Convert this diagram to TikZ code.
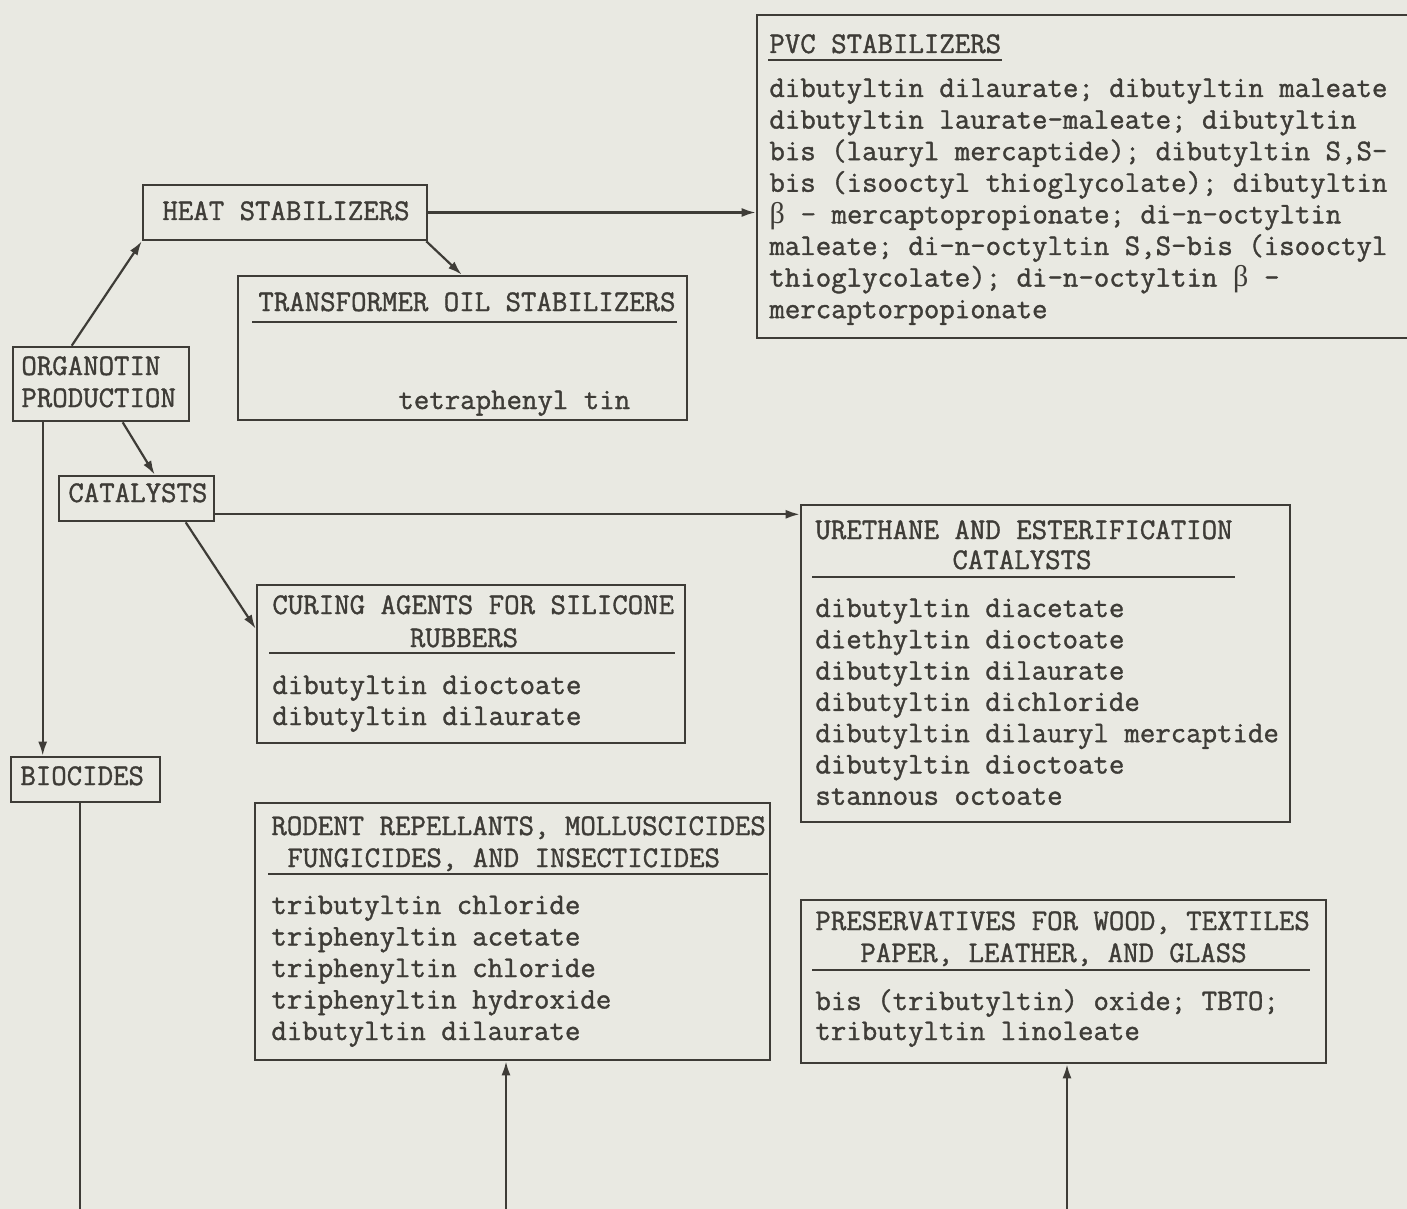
\documentclass[tikz,border=0pt]{standalone}
\usepackage{fontspec}
\newfontfamily\tw{Latin Modern Mono}[FakeBold=1.2]
\newfontfamily\grk{Liberation Serif}
\newcommand\betachar{\makebox[7.9pt]{\grk β}}
\usetikzlibrary{arrows.meta,calc}
\definecolor{paper}{RGB}{233,233,226}
\definecolor{ink}{RGB}{62,60,55}
\begin{document}
\begin{tikzpicture}[x=0.5pt,y=-0.5pt,
  box/.style={draw=ink,line width=1.3pt,inner sep=0pt},
  txt/.style={font=\tw\fontsize{15}{16}\selectfont,text=ink,inner sep=0pt,anchor=base west},
  conn/.style={draw=ink,line width=1.1pt,-{Latex[length=7pt,width=4.5pt]}},
  plain/.style={draw=ink,line width=1.1pt},
  ul/.style={draw=ink,line width=0.9pt}]
\useasboundingbox (0,0) rectangle (1407,1209);
\fill[paper] (0,0) rectangle (1407,1209);

% boxes
\node[box,minimum width=329pt,minimum height=161.5pt] (pvc) at (1086,176.5) {};
\node[box,minimum width=142pt,minimum height=27.5pt] (heat) at (285,212.5) {};
\node[box,minimum width=224.5pt,minimum height=72pt] (trans) at (462.5,348) {};
\node[box,minimum width=88pt,minimum height=37pt] (org) at (101,384) {};
\node[box,minimum width=77.5pt,minimum height=22.5pt] (cat) at (136.5,498.5) {};
\node[box,minimum width=214pt,minimum height=79pt] (curing) at (471,664) {};
\node[box,minimum width=244.5pt,minimum height=158.5pt] (ure) at (1045.5,663.5) {};
\node[box,minimum width=74.5pt,minimum height=22.5pt] (bio) at (85.5,779.5) {};
\node[box,minimum width=257.5pt,minimum height=128.5pt] (rodent) at (512.5,931.5) {};
\node[box,minimum width=262.5pt,minimum height=81.5pt] (pres) at (1063.5,981.5) {};

% PVC
\node[txt] (pvct) at (769,53) {PVC STABILIZERS};
\draw[ul] (768,60) -- (1002,60);
\foreach \t [count=\i from 0] in {
  {dibutyltin dilaurate; dibutyltin maleate},
  {dibutyltin laurate-maleate; dibutyltin},
  {bis (lauryl mercaptide); dibutyltin S,S-},
  {bis (isooctyl thioglycolate); dibutyltin},
  {\betachar{} - mercaptopropionate; di-n-octyltin},
  {maleate; di-n-octyltin S,S-bis (isooctyl},
  {thioglycolate); di-n-octyltin \betachar{} -},
  {mercaptorpopionate}}
  \node[txt] (pvcl\i) at (769,97+31.6*\i) {\t};

% heat
\node[txt] (heatt) at (162,220) {HEAT STABILIZERS};

% transformer
\node[txt] (transt) at (258,311) {TRANSFORMER OIL STABILIZERS};
\draw[ul] (252,322) -- (677,322);
\node[txt] (transb) at (398,409) {tetraphenyl tin};

% organotin
\node[txt] (orgt1) at (21,375) {ORGANOTIN};
\node[txt] (orgt2) at (21,407) {PRODUCTION};

% catalysts
\node[txt] (catt) at (68,502) {CATALYSTS};

% curing
\node[txt] (curt1) at (272,614) {CURING AGENTS FOR SILICONE};
\node[txt,anchor=base] (curt2) at (464,647) {RUBBERS};
\draw[ul] (269,653) -- (675,653);
\node[txt] (curb1) at (272,694) {dibutyltin dioctoate};
\node[txt] (curb2) at (272,725) {dibutyltin dilaurate};

% urethane
\node[txt] (uret1) at (815,539) {URETHANE AND ESTERIFICATION};
\node[txt,anchor=base] (uret2) at (1022,569) {CATALYSTS};
\draw[ul] (812,577) -- (1235,577);
\foreach \t [count=\i from 0] in {
  {dibutyltin diacetate},
  {diethyltin dioctoate},
  {dibutyltin dilaurate},
  {dibutyltin dichloride},
  {dibutyltin dilauryl mercaptide},
  {dibutyltin dioctoate},
  {stannous octoate}}
  \node[txt] (urel\i) at (815,617+31.3*\i) {\t};

% biocides
\node[txt] (biot) at (20,785) {BIOCIDES};

% rodent
\node[txt] (rodt1) at (271,835) {RODENT REPELLANTS, MOLLUSCICIDES};
\node[txt] (rodt2) at (287,867) {FUNGICIDES, AND INSECTICIDES};
\draw[ul] (268,874) -- (768,874);
\foreach \t [count=\i from 0] in {
  {tributyltin chloride},
  {triphenyltin acetate},
  {triphenyltin chloride},
  {triphenyltin hydroxide},
  {dibutyltin dilaurate}}
  \node[txt] (rodl\i) at (271,914+31.5*\i) {\t};

% preservatives
\node[txt] (prest1) at (815,930) {PRESERVATIVES FOR WOOD, TEXTILES};
\node[txt] (prest2) at (860,962) {PAPER, LEATHER, AND GLASS};
\draw[ul] (812,970) -- (1310,970);
\node[txt] (presb1) at (815,1010) {bis (tributyltin) oxide; TBTO;};
\node[txt] (presb2) at (815,1040) {tributyltin linoleate};

% connectors
\draw[conn] ($(org.north west)+(60,0)$) -- (heat.south west);
\draw[conn] ($(org.south west)+(111,0)$) -- ($(cat.north west)+(97,0)$);
\draw[conn] ($(org.south west)+(31,0)$) -- ($(bio.north west)+(33,0)$);
\draw[conn] (heat.east) -- (heat.east -| pvc.west);
\draw[conn] ($(heat.south east)+(-2,0)$) -- ($(trans.north west)+(225,0)$);
\coordinate (c1) at ($(cat.south east)+(0,-8)$);
\draw[conn] (c1) -- (c1 -| ure.west);
\draw[conn] ($(cat.south west)+(128,0)$) -- ($(curing.north west)+(0,45)$);
\coordinate (busA) at (80,1220);
\coordinate (busB) at (506,1220);
\coordinate (busC) at (1067,1220);
\draw[plain] (busA |- bio.south) -- (busA);
\draw[conn] (busB) -- (busB |- rodent.south);
\draw[conn] (busC) -- (busC |- pres.south);
\end{tikzpicture}
\end{document}
